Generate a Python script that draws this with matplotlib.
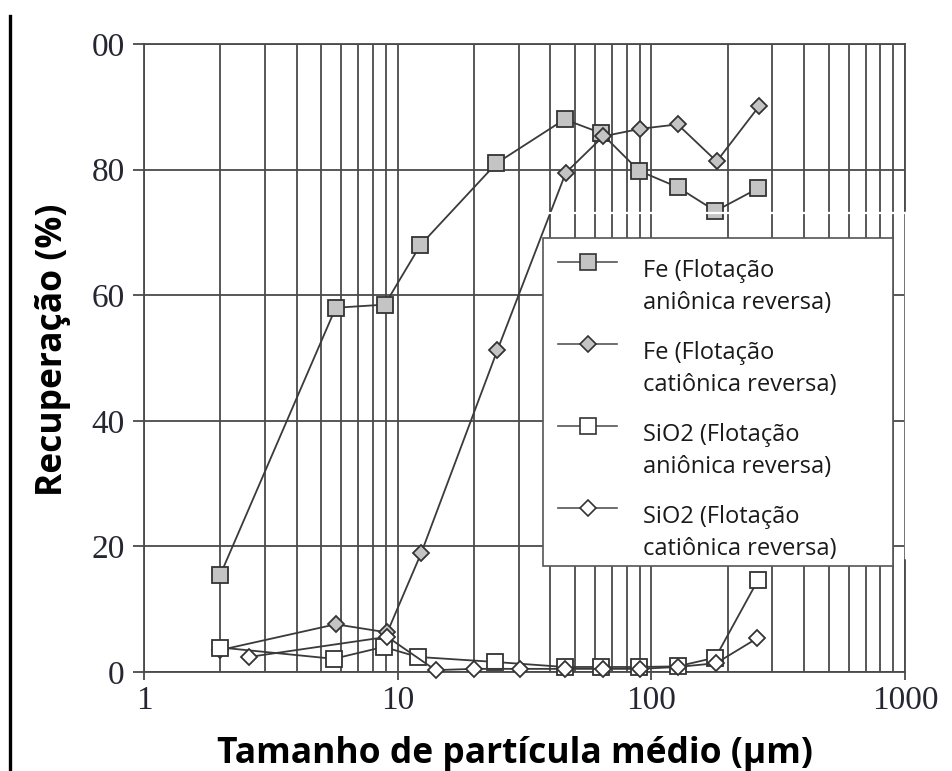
import numpy as np
import matplotlib
matplotlib.use("Agg")
import matplotlib.pyplot as plt
from matplotlib.lines import Line2D
from matplotlib.patches import Rectangle
from matplotlib.ticker import LogLocator, NullFormatter

# tamanho medio (um) e recuperacao (%) de cada serie
x_fe_an = [2, 5.7, 8.9, 12.3, 24.5, 45.5, 63.5, 89.5, 127, 179, 263]
fe_an = [15.5, 58, 58.5, 68, 81, 88, 85.8, 79.8, 77.2, 73.4, 77]

x_fe_cat = [2, 5.7, 9.1, 12.4, 24.7, 46, 64.6, 90.5, 127, 181, 266]
fe_cat = [3.5, 7.6, 6.3, 19, 51.2, 79.5, 85.3, 86.5, 87.2, 81.3, 90.1]

x_si_an = [2, 5.6, 8.8, 12.0, 24.2, 45.5, 63.5, 89.5, 127, 179, 263]
si_an = [3.9, 2.1, 4.0, 2.4, 1.6, 0.8, 0.8, 0.8, 0.9, 2.3, 14.6]

x_si_cat = [2.6, 9.1, 14.1, 20, 30.4, 45.7, 64.6, 90.4, 127, 180, 262]
si_cat = [2.4, 5.6, 0.3, 0.5, 0.5, 0.5, 0.5, 0.5, 0.8, 1.4, 5.4]

labels = [
    ("Fe (Flotação", "aniônica reversa)"),
    ("Fe (Flotação", "catiônica reversa)"),
    ("SiO2 (Flotação", "aniônica reversa)"),
    ("SiO2 (Flotação", "catiônica reversa)"),
]
yticks = [0, 20, 40, 60, 80, 100]
ytick_labels = ["0", "20", "40", "60", "80", "00"]
xticks = [1, 10, 100, 1000]
xtick_labels = ["1", "10", "100", "1000"]

W, H = 952, 771
def px(x, y):
    return x / W, 1 - y / H

grey = "#c4c4c4"
edge = "#333333"
linec = "#3a3a3a"
gridc = "#4a4a4a"

styles = [
    dict(marker="s", mfc=grey, ms=11),
    dict(marker="D", mfc=grey, ms=8),
    dict(marker="s", mfc="white", ms=11),
    dict(marker="D", mfc="white", ms=8),
]

fig = plt.figure(figsize=(W / 100, H / 100), dpi=100)
ax = fig.add_axes([144 / W, 1 - 672 / H, (905 - 144) / W, (672 - 44) / H])

ax.set_xscale("log")
ax.set_xlim(1, 1000)
ax.set_ylim(0, 100)

ax.xaxis.set_minor_locator(LogLocator(base=10, subs=np.arange(2, 10)))
ax.xaxis.set_minor_formatter(NullFormatter())
ax.grid(True, which="both", axis="x", color=gridc, lw=1.3)
ax.grid(True, which="major", axis="y", color=gridc, lw=1.3)
ax.set_axisbelow(True)

for s in ax.spines.values():
    s.set_color(gridc)
    s.set_linewidth(1.3)

series = [(x_fe_an, fe_an), (x_fe_cat, fe_cat), (x_si_an, si_an), (x_si_cat, si_cat)]
for (xs, ys), st in zip(series, styles):
    ax.plot(xs, ys, color=linec, lw=1.3, marker=st["marker"], ms=st["ms"],
            mfc=st["mfc"], mec=edge, mew=1.3, zorder=3, clip_on=False)

tick_font = dict(family="Liberation Serif", size=24, color="#262633")
ax.set_yticks(yticks)
ax.set_yticklabels(ytick_labels, fontdict=tick_font)
ax.set_xticks(xticks)
ax.set_xticklabels(xtick_labels, fontdict=tick_font)
ax.tick_params(axis="y", which="major", direction="out", length=8, width=1.3,
               color=gridc, pad=6)
ax.tick_params(axis="x", which="major", direction="out", length=6, width=1.3,
               color=gridc, pad=4)
ax.tick_params(axis="x", which="minor", length=0)

# eixos
fig.text(515 / W, 1 - 763 / H, "Tamanho de partícula médio (µm)", ha="center",
         va="baseline", family="Open Sans", weight="bold", size=25.5)
fig.text(53 / W, 1 - 350 / H, "Recuperação (%)", rotation=90, ha="center",
         va="center", family="Open Sans", weight="bold", size=25.5)

# faixas brancas sobre a grade
fig.add_artist(Line2D([535 / W, 910 / W], [1 - 213 / H] * 2, color="white",
                      lw=1.6, transform=fig.transFigure, zorder=4))
fig.add_artist(Line2D([906 / W] * 2, [1 - 213 / H, 1 - 557 / H], color="white",
                      lw=2.5, transform=fig.transFigure, zorder=4))

# legenda
x0, y0 = px(543, 566)
x1, y1 = px(893, 238)
fig.add_artist(Rectangle((x0, y0), x1 - x0, y1 - y0, transform=fig.transFigure,
                         fc="white", ec="#555555", lw=1.2, zorder=5))
for i, ((l1, l2), st) in enumerate(zip(labels, styles)):
    hy = 262 + 82 * i
    fig.add_artist(Line2D([558 / W, 617 / W], [1 - hy / H] * 2, color="#555555",
                          lw=1.2, transform=fig.transFigure, zorder=6))
    fig.add_artist(Line2D([588 / W], [1 - hy / H], marker=st["marker"], ms=st["ms"],
                          mfc=st["mfc"], mec=edge, mew=1.2, lw=0,
                          transform=fig.transFigure, zorder=7))
    fig.text(643 / W, 1 - (hy + 15) / H, l1, va="baseline", ha="left",
             family="Open Sans", size=17, color="#1a1a1a", zorder=7)
    fig.text(643 / W, 1 - (hy + 47) / H, l2, va="baseline", ha="left",
             family="Open Sans", size=17, color="#1a1a1a", zorder=7)

# linha preta na margem esquerda
fig.add_artist(Line2D([10 / W] * 2, [0, 1 - 16 / H], color="black", lw=2.4,
                      transform=fig.transFigure))

fig.savefig("out.png", dpi=100)
